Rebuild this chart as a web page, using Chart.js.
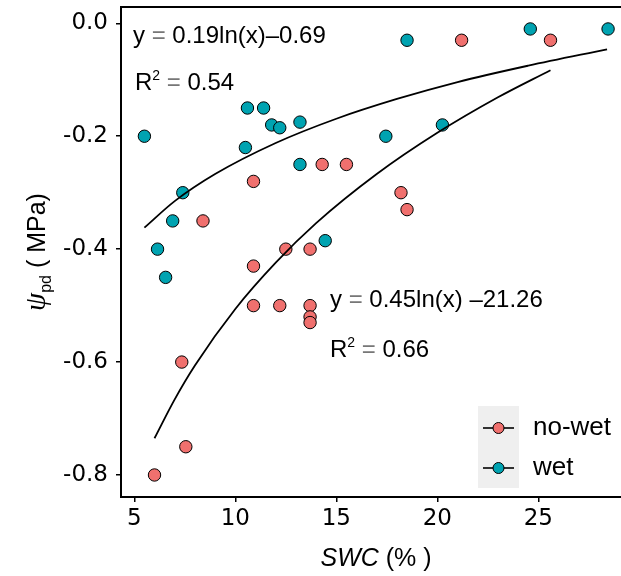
<!DOCTYPE html>
<html>
<head>
<meta charset="utf-8">
<script src="https://cdn.jsdelivr.net/npm/chart.js@4.4.1/dist/chart.umd.min.js"></script>
<style>
  html, body { margin: 0; padding: 0; background: #fff; overflow: hidden; }
  #wrap { width: 621px; height: 576px; }
</style>
</head>
<body>
<div id="wrap"><canvas id="chart" width="621" height="576"></canvas></div>
<script>
// 散点数据 (SWC %, ψpd MPa)
const noWetX = [6.0, 7.35, 7.55, 8.4, 10.9, 10.9, 10.9, 12.2, 12.5, 13.7, 13.7, 13.7, 13.7, 14.3, 15.5, 18.2, 18.5, 21.2, 25.6];
const noWetY = [-0.80, -0.60, -0.75, -0.35, -0.28, -0.43, -0.50, -0.50, -0.40, -0.40, -0.50, -0.52, -0.53, -0.25, -0.25, -0.30, -0.33, -0.03, -0.03];

const wetX = [5.5, 6.15, 6.55, 6.9, 7.4, 10.5, 10.6, 11.4, 11.8, 12.2, 13.2, 13.2, 14.45, 17.45, 18.5, 20.25, 24.6, 28.45];
const wetY = [-0.20, -0.40, -0.45, -0.35, -0.30, -0.22, -0.15, -0.15, -0.18, -0.185, -0.175, -0.25, -0.385, -0.20, -0.03, -0.18, -0.01, -0.01];

// 拟合曲线 (读自图中)
const fitWetX = [5.5, 7, 9, 12, 15, 18, 21, 24.5, 28.4];
const fitWetY = [-0.362, -0.315, -0.267, -0.212, -0.169, -0.134, -0.104, -0.075, -0.046];
const fitNoWetX = [6.0, 7, 8, 10, 12, 14, 17, 20, 23, 25.6];
const fitNoWetY = [-0.735, -0.666, -0.606, -0.506, -0.424, -0.354, -0.267, -0.194, -0.131, -0.083];

// 刻度
const xTicks = [5, 10, 15, 20, 25];
const yTicks = [0, -0.2, -0.4, -0.6, -0.8];

const COL_NOWET = '#F0706E';
const COL_WET = '#00A3B1';
const SANS = '"Liberation Sans", Arial, sans-serif';
const TICK_FONT = '"DejaVu Sans", sans-serif';

function zip(xs, ys) {
    return xs.map(function(x, i) { return { x: x, y: ys[i] }; });
}

// 去掉自动的标签留白，固定绘图区
function fixBox(s, key, size) {
    s[key] = size;
    s.paddingTop = 0;
    s.paddingBottom = 0;
    s.paddingLeft = 0;
    s.paddingRight = 0;
}

// 按段绘制文字 [text, font, dy, color]
function drawRuns(ctx, runs, x, y) {
    let cx = x;
    runs.forEach(function(r) {
        ctx.font = r[1];
        ctx.fillStyle = r[3] || '#000';
        ctx.fillText(r[0], cx, y + (r[2] || 0));
        cx += ctx.measureText(r[0]).width;
    });
    return cx - x;
}

function measureRuns(ctx, runs) {
    let w = 0;
    runs.forEach(function(r) {
        ctx.font = r[1];
        w += ctx.measureText(r[0]).width;
    });
    return w;
}

const decor = {
    id: 'decor',
    afterDraw(chart) {
        const ctx = chart.ctx;
        const a = chart.chartArea;
        ctx.save();

        // 上边框 (右边框在图片外)
        ctx.strokeStyle = '#000';
        ctx.lineWidth = 2;
        ctx.beginPath();
        ctx.moveTo(a.left, a.top);
        ctx.lineTo(a.right, a.top);
        ctx.stroke();

        ctx.textAlign = 'left';
        ctx.textBaseline = 'alphabetic';
        const F = '24px ' + SANS;
        const FS = '14px ' + SANS;
        const EQ = '#777';

        // 公式
        drawRuns(ctx, [['y ', F], ['= ', F, 0, EQ], ['0.19ln(x)\u20130.69', F]], 133, 43);
        drawRuns(ctx, [['R', F], ['2', FS, -10], [' = ', F, 0, EQ], ['0.54', F]], 135, 90);
        drawRuns(ctx, [['y ', F], ['= ', F, 0, EQ], ['0.45ln(x) \u201321.26', F]], 330, 307);
        drawRuns(ctx, [['R', F], ['2', FS, -10], [' = ', F, 0, EQ], ['0.66', F]], 330, 357);

        // 图例
        ctx.fillStyle = '#EFEFEF';
        ctx.fillRect(478, 406, 41, 82);
        const keys = [['no-wet', COL_NOWET, 428], ['wet', COL_WET, 468]];
        keys.forEach(function(k) {
            ctx.strokeStyle = '#000';
            ctx.lineWidth = 1.6;
            ctx.beginPath();
            ctx.moveTo(483, k[2]);
            ctx.lineTo(514, k[2]);
            ctx.stroke();
            ctx.beginPath();
            ctx.arc(498.5, k[2], 5.5, 0, Math.PI * 2);
            ctx.fillStyle = k[1];
            ctx.fill();
            ctx.lineWidth = 1;
            ctx.stroke();
            ctx.fillStyle = '#000';
            ctx.font = '26px ' + SANS;
            ctx.textBaseline = 'middle';
            ctx.fillText(k[0], 533, k[2]);
            ctx.textBaseline = 'alphabetic';
        });

        // x 轴标题 (居中于完整面板, 面板右缘约在 630)
        const xt = [['SWC', 'italic 25px ' + SANS], [' (% )', '25px ' + SANS]];
        const xw = measureRuns(ctx, xt);
        drawRuns(ctx, xt, 376 - xw / 2, 566);

        // y 轴标题
        const yt = [['\u03C8', 'italic 29px "Liberation Serif", serif'], ['pd', '16px ' + SANS, 6], [' ( MPa)', '25px ' + SANS]];
        const yw = measureRuns(ctx, yt);
        ctx.translate(45, (a.top + a.bottom) / 2);
        ctx.rotate(-Math.PI / 2);
        drawRuns(ctx, yt, -yw / 2, 0);

        ctx.restore();
    }
};

new Chart(document.getElementById('chart'), {
    type: 'scatter',
    data: {
        datasets: [
            {
                label: 'fitWet',
                data: zip(fitWetX, fitWetY),
                showLine: true,
                borderColor: '#000',
                borderWidth: 1.8,
                pointRadius: 0,
                cubicInterpolationMode: 'monotone',
                fill: false,
                order: 0
            },
            {
                label: 'fitNoWet',
                data: zip(fitNoWetX, fitNoWetY),
                showLine: true,
                borderColor: '#000',
                borderWidth: 1.8,
                pointRadius: 0,
                cubicInterpolationMode: 'monotone',
                fill: false,
                order: 0
            },
            {
                label: 'no-wet',
                data: zip(noWetX, noWetY),
                backgroundColor: COL_NOWET,
                borderColor: '#000',
                borderWidth: 1,
                pointRadius: 6.2,
                order: 1
            },
            {
                label: 'wet',
                data: zip(wetX, wetY),
                backgroundColor: COL_WET,
                borderColor: '#000',
                borderWidth: 1,
                pointRadius: 6.2,
                order: 1
            }
        ]
    },
    options: {
        responsive: false,
        animation: false,
        devicePixelRatio: 1,
        layout: { autoPadding: false, padding: { top: 7, left: 0, right: 0, bottom: 0 } },
        plugins: {
            legend: { display: false },
            tooltip: { enabled: false }
        },
        scales: {
            x: {
                type: 'linear',
                min: 4.342,
                max: 29.09,
                afterBuildTicks: function(s) { s.ticks = xTicks.map(function(v) { return { value: v }; }); },
                afterFit: function(s) { fixBox(s, 'height', 79); },
                ticks: {
                    font: { family: TICK_FONT, size: 23 },
                    color: '#000',
                    padding: 3,
                    callback: function(v) { return String(v); }
                },
                grid: { drawOnChartArea: false, drawTicks: true, tickLength: 5, color: '#000', lineWidth: 1.5 },
                border: { display: true, color: '#000', width: 2 }
            },
            y: {
                type: 'linear',
                min: -0.839,
                max: 0.0289,
                afterBuildTicks: function(s) { s.ticks = yTicks.map(function(v) { return { value: v }; }); },
                afterFit: function(s) { fixBox(s, 'width', 121); },
                ticks: {
                    font: { family: TICK_FONT, size: 23 },
                    color: '#000',
                    padding: 8,
                    callback: function(v) { return v.toFixed(1); }
                },
                grid: { drawOnChartArea: false, drawTicks: true, tickLength: 5, color: '#000', lineWidth: 1.5 },
                border: { display: true, color: '#000', width: 2 }
            }
        }
    },
    plugins: [decor]
});
</script>
</body>
</html>
